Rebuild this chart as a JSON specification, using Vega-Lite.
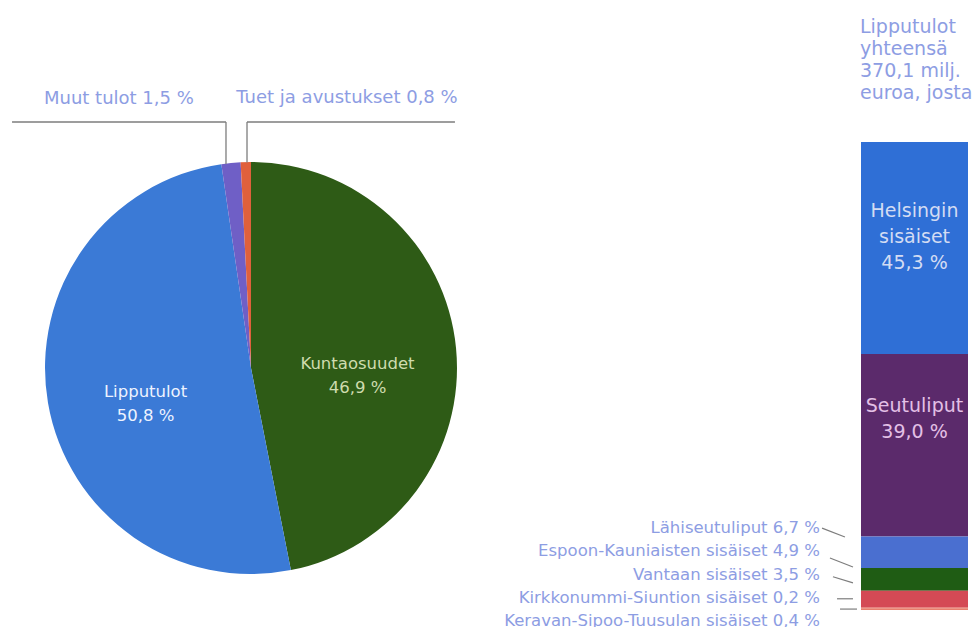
{
  "$schema": "https://vega.github.io/schema/vega-lite/v6.json",
  "padding": 0,
  "bounds": "flush",
  "spacing": 361,
  "background": "white",
  "resolve": {"scale": {"color": "independent"}},
  "config": {"view": {"stroke": null}, "font": "DejaVu Sans"},
  "datasets": {
    "tulot": [
      {"name": "Kuntaosuudet", "value": 46.9, "o": 1, "label": "Kuntaosuudet\n46,9 %"},
      {"name": "Lipputulot", "value": 50.8, "o": 2, "label": "Lipputulot\n50,8 %"},
      {"name": "Muut tulot", "value": 1.5, "o": 3, "label": "Muut tulot 1,5 %"},
      {"name": "Tuet ja avustukset", "value": 0.8, "o": 4, "label": "Tuet ja avustukset 0,8 %"}
    ],
    "liput": [
      {"group": "Lipputulot", "name": "Helsingin sisäiset", "value": 45.3, "o": 1, "label": "Helsingin\nsisäiset\n45,3 %"},
      {"group": "Lipputulot", "name": "Seutuliput", "value": 39.0, "o": 2, "label": "Seutuliput\n39,0 %"},
      {"group": "Lipputulot", "name": "Lähiseutuliput", "value": 6.7, "o": 3, "label": "Lähiseutuliput 6,7 %"},
      {"group": "Lipputulot", "name": "Espoon-Kauniaisten sisäiset", "value": 4.9, "o": 4, "label": "Espoon-Kauniaisten sisäiset 4,9 %"},
      {"group": "Lipputulot", "name": "Vantaan sisäiset", "value": 3.5, "o": 5, "label": "Vantaan sisäiset 3,5 %"},
      {"group": "Lipputulot", "name": "Kirkkonummi-Siuntion sisäiset", "value": 0.2, "o": 6, "label": "Kirkkonummi-Siuntion sisäiset 0,2 %"},
      {"group": "Lipputulot", "name": "Keravan-Sipoo-Tuusulan sisäiset", "value": 0.4, "o": 7, "label": "Keravan-Sipoo-Tuusulan sisäiset 0,4 %"}
    ],
    "otsikko": [
      {"text": "Lipputulot\nyhteensä\n370,1 milj.\neuroa, josta"}
    ]
  },
  "hconcat": [
    {
      "width": 500,
      "height": 627,
      "layer": [
        {
          "data": {"name": "tulot"},
          "mark": {"type": "arc", "outerRadius": 206},
          "encoding": {
            "x": {"datum": 0, "type": "quantitative", "scale": {"domain": [-1.2184, 1.2087], "nice": false, "zero": false}, "axis": null},
            "y": {"datum": 0, "type": "quantitative", "scale": {"domain": [-1.2573, 1.7864], "nice": false, "zero": false}, "axis": null},
            "theta": {"field": "value", "type": "quantitative", "stack": true},
            "order": {"field": "o", "type": "quantitative"},
            "color": {"field": "name", "type": "nominal", "legend": null,
              "scale": {"domain": ["Kuntaosuudet", "Lipputulot", "Muut tulot", "Tuet ja avustukset"],
                        "range": ["#2e5b16", "#3b7ad6", "#6f5fc6", "#e0603c"]}}
          }
        },
        {
          "data": {"name": "tulot"},
          "mark": {"type": "text", "radius": 107, "dy": 6, "fontSize": 16.5, "lineHeight": 24, "lineBreak": "\n", "align": "center", "baseline": "middle"},
          "encoding": {
            "x": {"datum": 0, "type": "quantitative", "scale": {"domain": [-1.2184, 1.2087], "nice": false, "zero": false}, "axis": null},
            "y": {"datum": 0, "type": "quantitative", "scale": {"domain": [-1.2573, 1.7864], "nice": false, "zero": false}, "axis": null},
            "theta": {"field": "value", "type": "quantitative", "stack": true},
            "order": {"field": "o", "type": "quantitative"},
            "text": {"condition": {"test": "datum.o <= 2", "field": "label"}, "value": ""},
            "color": {"condition": {"test": "datum.name === 'Lipputulot'", "value": "#eef3ff"}, "value": "#cfdcae"}
          }
        },
        {
          "data": {"name": "tulot"},
          "transform": [
            {"stack": "value", "groupby": [], "sort": [{"field": "o", "order": "ascending"}], "as": ["t0", "t1"]},
            {"filter": "datum.name === 'Muut tulot'"}
          ],
          "mark": {"type": "text", "radius": 272, "fontSize": 18, "align": "right", "baseline": "middle", "dx": -18, "color": "#8d9de3"},
          "encoding": {
            "x": {"datum": 0, "type": "quantitative", "scale": {"domain": [-1.2184, 1.2087], "nice": false, "zero": false}, "axis": null},
            "y": {"datum": 0, "type": "quantitative", "scale": {"domain": [-1.2573, 1.7864], "nice": false, "zero": false}, "axis": null},
            "theta": {"field": "t0", "type": "quantitative", "stack": null, "scale": {"domain": [0, 100]}},
            "text": {"field": "label"}
          }
        },
        {
          "data": {"name": "tulot"},
          "transform": [
            {"stack": "value", "groupby": [], "sort": [{"field": "o", "order": "ascending"}], "as": ["t0", "t1"]},
            {"filter": "datum.name === 'Tuet ja avustukset'"}
          ],
          "mark": {"type": "text", "radius": 272, "fontSize": 18, "align": "left", "baseline": "middle", "dx": -1, "dy": 2, "color": "#8d9de3"},
          "encoding": {
            "x": {"datum": 0, "type": "quantitative", "scale": {"domain": [-1.2184, 1.2087], "nice": false, "zero": false}, "axis": null},
            "y": {"datum": 0, "type": "quantitative", "scale": {"domain": [-1.2573, 1.7864], "nice": false, "zero": false}, "axis": null},
            "theta": {"field": "t0", "type": "quantitative", "stack": null, "scale": {"domain": [0, 100]}},
            "text": {"field": "label"}
          }
        },
        {
          "data": {"values": [{}]},
          "mark": {"type": "rule", "color": "#7d7d7d", "strokeWidth": 1.3},
          "encoding": {
            "x": {"datum": -1.16, "type": "quantitative", "scale": {"domain": [-1.2184, 1.2087], "nice": false, "zero": false}, "axis": null},
            "x2": {"datum": -0.1214},
            "y": {"datum": 1.1942, "type": "quantitative", "scale": {"domain": [-1.2573, 1.7864], "nice": false, "zero": false}, "axis": null}
          }
        },
        {
          "data": {"values": [{}]},
          "mark": {"type": "rule", "color": "#7d7d7d", "strokeWidth": 1.3},
          "encoding": {
            "x": {"datum": -0.1214, "type": "quantitative", "scale": {"domain": [-1.2184, 1.2087], "nice": false, "zero": false}, "axis": null},
            "y": {"datum": 1.1942, "type": "quantitative", "scale": {"domain": [-1.2573, 1.7864], "nice": false, "zero": false}, "axis": null},
            "y2": {"datum": 0.99}
          }
        },
        {
          "data": {"values": [{}]},
          "mark": {"type": "rule", "color": "#7d7d7d", "strokeWidth": 1.3},
          "encoding": {
            "x": {"datum": -0.0194, "type": "quantitative", "scale": {"domain": [-1.2184, 1.2087], "nice": false, "zero": false}, "axis": null},
            "y": {"datum": 1.1942, "type": "quantitative", "scale": {"domain": [-1.2573, 1.7864], "nice": false, "zero": false}, "axis": null},
            "y2": {"datum": 0.998}
          }
        },
        {
          "data": {"values": [{}]},
          "mark": {"type": "rule", "color": "#7d7d7d", "strokeWidth": 1.3},
          "encoding": {
            "x": {"datum": -0.0194, "type": "quantitative", "scale": {"domain": [-1.2184, 1.2087], "nice": false, "zero": false}, "axis": null},
            "x2": {"datum": 0.99},
            "y": {"datum": 1.1942, "type": "quantitative", "scale": {"domain": [-1.2573, 1.7864], "nice": false, "zero": false}, "axis": null}
          }
        }
      ]
    },
    {
      "width": 107,
      "height": 627,
      "resolve": {"scale": {"y": "independent"}},
      "layer": [
        {
          "data": {"name": "liput"},
          "transform": [{"stack": "value", "groupby": ["group"], "sort": [{"field": "o", "order": "ascending"}], "as": ["y0", "y1"]}],
          "mark": {"type": "bar"},
          "encoding": {
            "x": {"datum": 0, "type": "quantitative", "scale": {"domain": [0, 1], "nice": false, "zero": false}, "axis": null},
            "x2": {"datum": 1},
            "y": {"field": "y0", "type": "quantitative", "scale": {"domain": [-30.34, 103.63], "reverse": true, "nice": false, "zero": false}, "axis": null},
            "y2": {"field": "y1"},
            "color": {"field": "name", "type": "nominal", "legend": null,
              "scale": {"domain": ["Helsingin sisäiset", "Seutuliput", "Lähiseutuliput", "Espoon-Kauniaisten sisäiset", "Vantaan sisäiset", "Kirkkonummi-Siuntion sisäiset", "Keravan-Sipoo-Tuusulan sisäiset"],
                        "range": ["#2f6fd6", "#5b2a6b", "#4a6fd0", "#1f5c14", "#d44a55", "#e06a66", "#e8806e"]}}
          }
        },
        {
          "data": {"name": "liput"},
          "transform": [
            {"stack": "value", "groupby": ["group"], "sort": [{"field": "o", "order": "ascending"}], "as": ["y0", "y1"]},
            {"filter": "datum.o === 1"}
          ],
          "mark": {"type": "text", "fontSize": 19, "lineHeight": 26, "lineBreak": "\n", "align": "center", "baseline": "top", "dy": 60, "color": "#d3dcf3"},
          "encoding": {
            "x": {"datum": 0.5, "type": "quantitative", "scale": {"domain": [0, 1], "nice": false, "zero": false}, "axis": null},
            "y": {"field": "y0", "type": "quantitative", "scale": {"domain": [-30.34, 103.63], "reverse": true, "nice": false, "zero": false}, "axis": null},
            "text": {"field": "label"}
          }
        },
        {
          "data": {"name": "liput"},
          "transform": [
            {"stack": "value", "groupby": ["group"], "sort": [{"field": "o", "order": "ascending"}], "as": ["y0", "y1"]},
            {"filter": "datum.o === 2"}
          ],
          "mark": {"type": "text", "fontSize": 19, "lineHeight": 26, "lineBreak": "\n", "align": "center", "baseline": "top", "dy": 43, "color": "#e3c0e6"},
          "encoding": {
            "x": {"datum": 0.5, "type": "quantitative", "scale": {"domain": [0, 1], "nice": false, "zero": false}, "axis": null},
            "y": {"field": "y0", "type": "quantitative", "scale": {"domain": [-30.34, 103.63], "reverse": true, "nice": false, "zero": false}, "axis": null},
            "text": {"field": "label"}
          }
        },
        {
          "data": {"name": "liput"},
          "transform": [{"filter": "datum.o >= 3"}],
          "mark": {"type": "text", "fontSize": 16.5, "align": "right", "baseline": "middle", "dx": -41, "color": "#8d9de3"},
          "encoding": {
            "x": {"datum": 0, "type": "quantitative", "scale": {"domain": [0, 1], "nice": false, "zero": false}, "axis": null},
            "y": {"field": "name", "type": "ordinal", "axis": null,
              "scale": {"type": "point", "padding": 0, "domain": ["Lähiseutuliput", "Espoon-Kauniaisten sisäiset", "Vantaan sisäiset", "Kirkkonummi-Siuntion sisäiset", "Keravan-Sipoo-Tuusulan sisäiset"], "range": [528, 621]}},
            "text": {"field": "label"}
          }
        },
        {
          "data": {"values": [{}]},
          "mark": {"type": "rule", "color": "#7d7d7d", "strokeWidth": 1.2},
          "encoding": {
            "x": {"datum": -0.364, "type": "quantitative", "scale": {"domain": [0, 1], "nice": false, "zero": false}, "axis": null},
            "x2": {"datum": -0.15},
            "y": {"datum": 82.5, "type": "quantitative", "scale": {"domain": [-30.34, 103.63], "reverse": true, "nice": false, "zero": false}, "axis": null},
            "y2": {"datum": 84.4}
          }
        },
        {
          "data": {"values": [{}]},
          "mark": {"type": "rule", "color": "#7d7d7d", "strokeWidth": 1.2},
          "encoding": {
            "x": {"datum": -0.29, "type": "quantitative", "scale": {"domain": [0, 1], "nice": false, "zero": false}, "axis": null},
            "x2": {"datum": -0.075},
            "y": {"datum": 88.9, "type": "quantitative", "scale": {"domain": [-30.34, 103.63], "reverse": true, "nice": false, "zero": false}, "axis": null},
            "y2": {"datum": 90.8}
          }
        },
        {
          "data": {"values": [{}]},
          "mark": {"type": "rule", "color": "#7d7d7d", "strokeWidth": 1.2},
          "encoding": {
            "x": {"datum": -0.262, "type": "quantitative", "scale": {"domain": [0, 1], "nice": false, "zero": false}, "axis": null},
            "x2": {"datum": -0.075},
            "y": {"datum": 92.9, "type": "quantitative", "scale": {"domain": [-30.34, 103.63], "reverse": true, "nice": false, "zero": false}, "axis": null},
            "y2": {"datum": 94.2}
          }
        },
        {
          "data": {"values": [{}]},
          "mark": {"type": "rule", "color": "#7d7d7d", "strokeWidth": 1.2},
          "encoding": {
            "x": {"datum": -0.224, "type": "quantitative", "scale": {"domain": [0, 1], "nice": false, "zero": false}, "axis": null},
            "x2": {"datum": -0.075},
            "y": {"datum": 97.6, "type": "quantitative", "scale": {"domain": [-30.34, 103.63], "reverse": true, "nice": false, "zero": false}, "axis": null}
          }
        },
        {
          "data": {"values": [{}]},
          "mark": {"type": "rule", "color": "#7d7d7d", "strokeWidth": 1.2},
          "encoding": {
            "x": {"datum": -0.196, "type": "quantitative", "scale": {"domain": [0, 1], "nice": false, "zero": false}, "axis": null},
            "x2": {"datum": -0.037},
            "y": {"datum": 99.8, "type": "quantitative", "scale": {"domain": [-30.34, 103.63], "reverse": true, "nice": false, "zero": false}, "axis": null}
          }
        },
        {
          "data": {"name": "otsikko"},
          "mark": {"type": "text", "fontSize": 19, "lineHeight": 22, "lineBreak": "\n", "align": "left", "baseline": "top", "dx": -1, "dy": -124, "color": "#8d9de3"},
          "encoding": {
            "x": {"datum": 0, "type": "quantitative", "scale": {"domain": [0, 1], "nice": false, "zero": false}, "axis": null},
            "y": {"datum": 0, "type": "quantitative", "scale": {"domain": [-30.34, 103.63], "reverse": true, "nice": false, "zero": false}, "axis": null},
            "text": {"field": "text"}
          }
        }
      ]
    }
  ]
}
